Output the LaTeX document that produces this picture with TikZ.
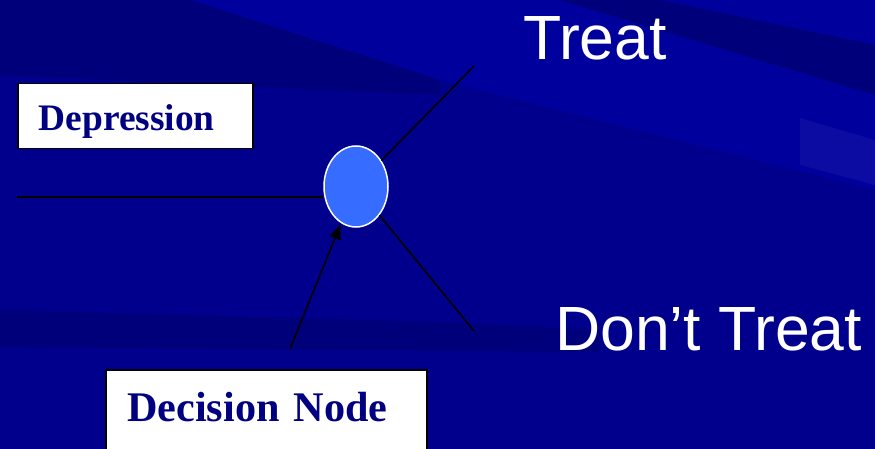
\documentclass[tikz,border=0pt]{standalone}
\usepackage{fontspec}
\setmainfont{Liberation Serif}
\newfontfamily\labelfont{Liberation Sans}
\usetikzlibrary{shapes.geometric,arrows.meta}
\definecolor{bgmid}{RGB}{0,0,140}
\definecolor{bgdark}{RGB}{0,0,122}
\definecolor{bglight}{RGB}{0,0,156}
\definecolor{bgpatch}{RGB}{12,12,162}
\definecolor{navytext}{RGB}{0,0,128}
\definecolor{choicefill}{RGB}{54,108,255}

\begin{document}
\begin{tikzpicture}[x=1pt,y=-1pt,
		labelbox/.style={draw=black, fill=white, line width=1.5pt, inner ysep=0pt, align=left, text=navytext, font=\bfseries},
		branchlabel/.style={text=white, inner sep=0pt, font=\labelfont\fontsize{62.5}{70}\selectfont},
		branch/.style={line width=1.6pt}]
			% Background
			\useasboundingbox (0,0) rectangle (875,449);
			\fill[bgmid] (0,0) rectangle (875,449);
			\fill[bglight] (190,0) -- (875,0) -- (875,190) -- (440,80) -- cycle;
			\fill[bgdark] (0,0) -- (190,0) -- (440,80) -- (440,95) -- (0,75) -- cycle;
			\fill[bgdark] (560,0) -- (660,0) -- (875,45) -- (875,95) -- cycle;
			\fill[bgpatch] (800,118) -- (875,140) -- (875,185) -- (800,165) -- cycle;
			\fill[bgdark] (0,310) -- (440,322) -- (600,330) -- (600,352) -- (0,347) -- cycle;
			% Nodes
			\node[ellipse, draw=white, fill=choicefill, line width=1.5pt, minimum width=64pt, minimum height=81pt, inner sep=0pt] (choice) at (356,186.5) {};
			\node[labelbox, anchor=north west, inner xsep=21pt, text width=193pt, text height=47pt, text depth=18pt, font=\bfseries\fontsize{37.4}{44}\selectfont] (depression) at (17,83) {Depression};
			\node[labelbox, anchor=north west, inner xsep=21.5pt, text width=278pt, text height=52pt, text depth=40pt, font=\bfseries\fontsize{42.2}{50}\selectfont] (decision) at (105,369) {Decision Node};
			\node[branchlabel, anchor=base west] (treat) at (523,60) {Treat};
			\node[branchlabel, anchor=base west] (donttreat) at (555,350) {Don’t Treat};
			\coordinate (stem) at (17,197);
			\coordinate (treatend) at (474,66);
			\coordinate (donttreatend) at (474,331);
			\coordinate (pointer) at (290,349);
			% Connectors
			\draw[branch] (stem) -- (stem -| choice.west);
			\draw[branch] (choice) -- (treatend);
			\draw[branch] (choice) -- (donttreatend);
			\draw[branch, -{Latex[length=16pt,width=13pt]}] (pointer) -- (choice);
		\end{tikzpicture}
\end{document}
